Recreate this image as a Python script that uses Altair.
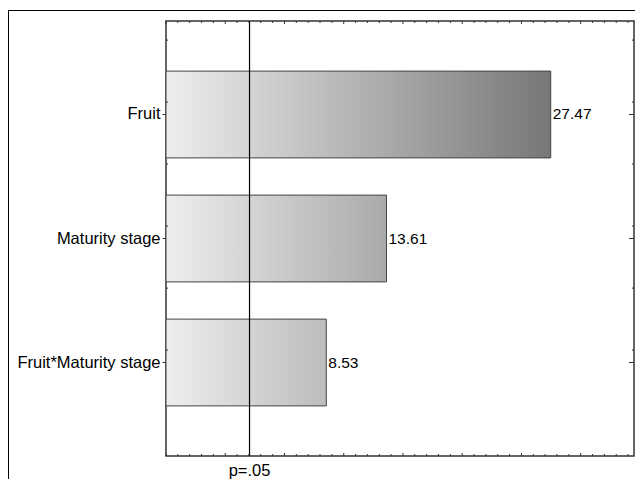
import altair as alt
import pandas as pd

# Data
effects = ["Fruit", "Maturity stage", "Fruit*Maturity stage"]
values = [27.47, 13.61, 8.53]
value_labels = ["27.47", "13.61", "8.53"]
p_crit = [2.05]
p_label = ["p=.05"]
x_min, x_max = -5, 34.5
minor_ticks = [t for t in range(-5, 35) if t % 5 != 0]
major_ticks = [t for t in range(-5, 35) if t % 5 == 0]

W, H = 468, 435
FONT = "Liberation Sans"

df = pd.DataFrame({"effect": effects, "value": values, "label": value_labels,
                   "base": [x_min] * len(effects)})
pdf = pd.DataFrame({"p": p_crit, "label": p_label})
minor_df = pd.DataFrame({"t": minor_ticks})
major_df = pd.DataFrame({"t": major_ticks})
one = pd.DataFrame({"a": [0]})

xs = alt.Scale(domain=[x_min, x_max], nice=False, zero=False)
ys = alt.Scale(domain=effects, paddingInner=0.3, paddingOuter=0.404)

def gray_hex(v):
    g = int(round(238 - 3.67 * (v - x_min)))
    g = max(0, min(255, g))
    return "#%02x%02x%02x" % (g, g, g)

layers = []
for eff, val in zip(effects, values):
    grad = alt.LinearGradient(
        gradient="linear", x1=0, x2=1, y1=0, y2=0,
        stops=[alt.GradientStop(offset=0, color="#eeeeee"),
               alt.GradientStop(offset=1, color=gray_hex(val))])
    layers.append(
        alt.Chart(df).transform_filter(alt.datum.effect == eff)
        .mark_bar(color=grad, stroke="#444444", strokeWidth=1)
        .encode(
            x=alt.X("value:Q", scale=xs, axis=None),
            x2="base:Q",
            y=alt.Y("effect:N", scale=ys, sort=effects,
                    axis=alt.Axis(title=None, labelFontSize=16.5, labelFont=FONT,
                                  labelColor="black", tickColor="#333333",
                                  tickSize=4, domain=False, labelPadding=2,
                                  grid=False, labelLimit=300)),
        )
    )

texts = alt.Chart(df).mark_text(align="left", baseline="middle", dx=2,
                                fontSize=15.5, font=FONT, color="black").encode(
    x=alt.X("value:Q", scale=xs), y=alt.Y("effect:N", scale=ys, sort=effects),
    text="label:N")

prule = alt.Chart(pdf).mark_rule(color="black", strokeWidth=1.2).encode(
    x=alt.X("p:Q", scale=xs))
ptext = alt.Chart(pdf).mark_text(fontSize=16.5, font=FONT, color="black",
                                 baseline="middle").encode(
    x=alt.X("p:Q", scale=xs), y=alt.value(H + 15), text="label:N")

def ticks(d, size):
    top = alt.Chart(d).mark_rule(color="#333333", strokeWidth=1).encode(
        x=alt.X("t:Q", scale=xs), y=alt.value(0), y2=alt.value(size))
    bot = alt.Chart(d).mark_rule(color="#333333", strokeWidth=1).encode(
        x=alt.X("t:Q", scale=xs), y=alt.value(H - size), y2=alt.value(H))
    return [top, bot]

ydf = pd.DataFrame({"effect": effects})
right_ticks = alt.Chart(ydf).mark_rule(color="#333333").encode(
    y=alt.Y("effect:N", scale=ys, sort=effects),
    x=alt.value(W - 5), x2=alt.value(W))
side_minor = []
for off in (-31, 31):
    for x0, x1 in ((W - 2, W), (0, 2)):
        side_minor.append(
            alt.Chart(ydf).mark_rule(color="#333333").encode(
                y=alt.Y("effect:N", scale=ys, sort=effects),
                yOffset=alt.value(off), x=alt.value(x0), x2=alt.value(x1)))

frame_left = alt.Chart(one).mark_rule(color="black", strokeWidth=1).encode(
    x=alt.value(-157.5), y=alt.value(-11), y2=alt.value(H + 40))
frame_top = alt.Chart(one).mark_rule(color="black", strokeWidth=1).encode(
    x=alt.value(-157.5), x2=alt.value(W + 5), y=alt.value(-10.5))

chart = alt.layer(
    *layers, texts, prule, ptext, *ticks(minor_df, 2), *ticks(major_df, 3),
    right_ticks, *side_minor, frame_left, frame_top
).properties(
    width=W, height=H,
    autosize=alt.AutoSizeParams(type="none"),
    padding={"left": 158, "top": 13, "right": 1, "bottom": 23},
).configure_view(stroke="#333333", strokeWidth=1.5)

chart.save("out.html", embed_options={"renderer": "svg", "actions": False})
